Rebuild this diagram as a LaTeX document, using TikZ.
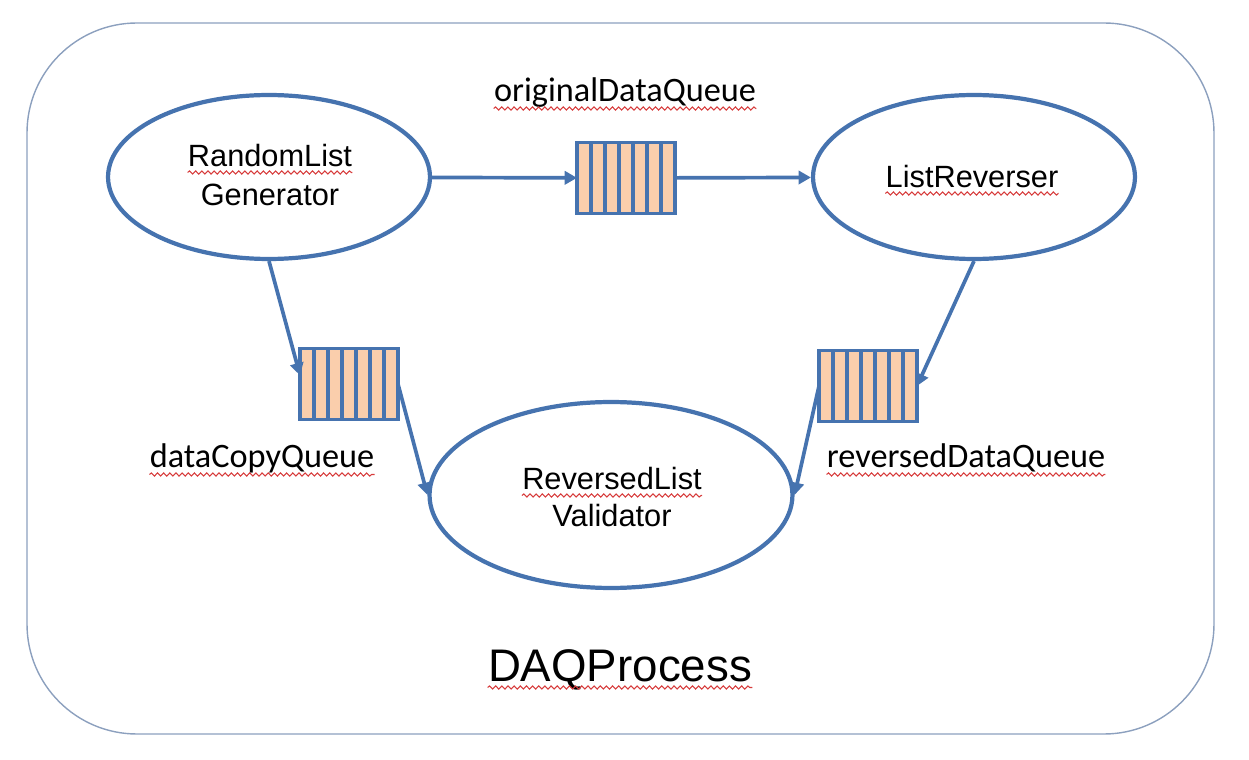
\documentclass[tikz,border=0pt]{standalone}
\usepackage{fontspec}
\setmainfont{Liberation Sans}
\newfontfamily\labelfont{Carlito}
\usepackage{tikz}
\usetikzlibrary{arrows.meta,positioning,decorations.pathmorphing,calc,shapes.geometric}
\definecolor{flowblue}{RGB}{70,115,175}
\definecolor{queuefill}{RGB}{250,206,172}
\definecolor{framegray}{RGB}{140,160,190}
\definecolor{squigred}{RGB}{215,60,60}

\begin{document}
\begin{tikzpicture}[x=0.02cm, y=-0.02cm,
    proc/.style={ellipse, draw=flowblue, line width=2.4pt, inner sep=0pt},
    proctext/.style={anchor=base, inner sep=0pt, font=\fontsize{17.5}{21}\selectfont},
    qlabel/.style={anchor=base, inner sep=0pt, font=\labelfont\fontsize{19.5}{23}\selectfont},
    queue/.style={rectangle, draw=flowblue, fill=queuefill, line width=2pt,
        minimum width=1.96cm, minimum height=1.42cm, inner sep=0pt, outer sep=0pt},
    qbar/.style={draw=flowblue, line width=2.2pt},
    flow/.style={-{Triangle[length=7pt,width=7.5pt]}, draw=flowblue, line width=2.1pt},
    squig/.style={draw=squigred, line width=0.6pt,
        decorate, decoration={snake, amplitude=0.9pt, segment length=3.5pt}}]
    \useasboundingbox (0,0) rectangle (1249,760);

    % Process frame
    \draw[framegray, line width=0.8pt, rounded corners=2.2cm] (27,23) rectangle (1214,734);

    % Processes
    \node[proc, minimum width=6.44cm, minimum height=3.28cm] (gen) at (269,177) {};
    \node[proc, minimum width=6.44cm, minimum height=3.28cm] (rev) at (974,177) {};
    \node[proc, minimum width=7.26cm, minimum height=3.72cm] (val) at (611,495) {};

    \node[proctext] (genA) at (270,167) {RandomList};
    \node[proctext] (genB) at (270,206) {Generator};
    \node[proctext] (revA) at (972,188) {ListReverser};
    \node[proctext] (valA) at (612,490) {ReversedList};
    \node[proctext] (valB) at (612,527) {Validator};

    % Queues
    \node[queue] (qorig) at (626,178) {};
    \node[queue] (qcopy) at (349,384) {};
    \node[queue] (qrev) at (868,386) {};
    \foreach \q in {qorig,qcopy,qrev}
        \foreach \i in {1,...,6}
            \draw[qbar] ([xshift=\i*0.28cm]\q.north west) -- ([xshift=\i*0.28cm]\q.south west);

    \node[qlabel] (origL) at (625,102) {originalDataQueue};
    \node[qlabel] (copyL) at (262,468) {dataCopyQueue};
    \node[qlabel] (revL) at (966,468) {reversedDataQueue};

    % Flows
    \draw[flow] (gen) -- (qorig);
    \draw[flow] (qorig) -- (rev);
    \draw[flow] (gen.south) -- (qcopy.170);
    \draw[flow] (qcopy.east) -- (val.west);
    \draw[flow] (rev.south) -- (qrev.east);
    \draw[flow] (qrev.west) -- (val.east);

    % Title
    \node[anchor=base, inner sep=0pt, font=\fontsize{26}{30}\selectfont] (title) at (620,682) {DAQProcess};

    % Spelling marks
    \foreach \t in {genA,revA,valA,title}
        \draw[squig] ([yshift=-0.11cm]\t.base west) -- ([yshift=-0.11cm]\t.base east);
    \foreach \t in {origL,copyL,revL}
        \draw[squig] ([yshift=-0.13cm]\t.base west) -- ([yshift=-0.13cm]\t.base east);
\end{tikzpicture}
\end{document}
